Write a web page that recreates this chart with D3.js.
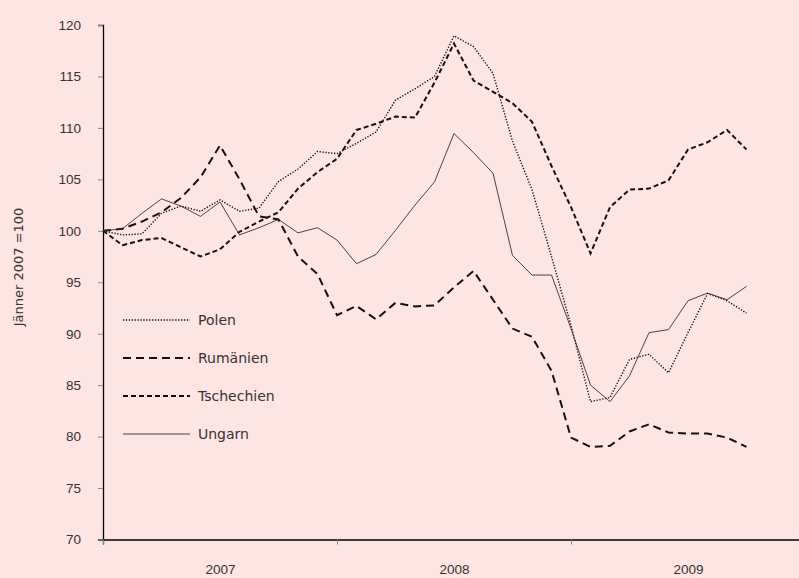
<!DOCTYPE html>
<html>
<head>
<meta charset="utf-8">
<script src="https://cdn.jsdelivr.net/npm/d3@7"></script>
<style>
  body { margin: 0; background: #ffe4e4; }
  svg { display: block; font-family: "DejaVu Sans", sans-serif; }
  .axis text { fill: #333; font-size: 13.5px; }
</style>
</head>
<body>
<svg id="chart" width="799" height="578"></svg>
<script>
// monthly index, Jänner 2007 = 100 (Jan 2007 .. Oct 2009)
var years = ["2007", "2008", "2009"];
var yTicks = [70, 75, 80, 85, 90, 95, 100, 105, 110, 115, 120];

var polen = [100, 99.6, 99.7, 101.7, 102.4, 101.9, 103.0, 101.9, 102.2, 104.8, 106.0, 107.7,
             107.5, 108.5, 109.6, 112.7, 113.8, 115.0, 118.95, 117.9, 115.3, 108.7, 104.0, 97.5,
             90.8, 83.4, 83.8, 87.5, 88.0, 86.2, 90.1, 93.9, 93.2, 92.0];
var rumaenien = [100, 100.2, 100.9, 101.8, 103.2, 105.2, 108.3, 105.0, 101.4, 101.1, 97.5, 95.8,
                 91.8, 92.7, 91.4, 93.0, 92.65, 92.75, 94.5, 96.1, 93.3, 90.5, 89.7, 86.4,
                 79.9, 79.0, 79.1, 80.5, 81.2, 80.4, 80.3, 80.3, 79.9, 79.0];
var tschechien = [100, 98.6, 99.1, 99.3, 98.4, 97.5, 98.2, 99.9, 100.9, 101.8, 104.1, 105.7,
                  107.0, 109.8, 110.4, 111.1, 111.0, 114.4, 118.2, 114.6, 113.5, 112.4, 110.6, 106.3,
                  102.3, 97.8, 102.3, 104.0, 104.1, 104.9, 107.9, 108.6, 109.8, 107.9];
var ungarn = [100, 100.2, 101.7, 103.1, 102.4, 101.4, 102.8, 99.6, 100.3, 101.1, 99.8, 100.3,
              99.1, 96.8, 97.7, 100.05, 102.5, 104.75, 109.45, 107.6, 105.6, 97.6, 95.7, 95.7,
              90.5, 85.0, 83.4, 85.9, 90.1, 90.4, 93.2, 93.95, 93.3, 94.6];

var series = [
  {name: "Polen", values: polen, width: 1.4, dash: "1.3,1.6", color: "#111"},
  {name: "Rumänien", values: rumaenien, width: 2, dash: "8,5", color: "#111"},
  {name: "Tschechien", values: tschechien, width: 2, dash: "5,3", color: "#111"},
  {name: "Ungarn", values: ungarn, width: 0.9, dash: null, color: "#333"}
];

var svg = d3.select("#chart");

// 36 month slots, last partly off the right edge
var x = d3.scaleLinear().domain([0, 36]).range([103, 805]);
var y = d3.scaleLinear().domain([70, 120]).range([539.5, 25]);

// y axis
var yAxis = svg.append("g")
    .attr("class", "axis")
    .attr("transform", "translate(103,0)")
    .call(d3.axisLeft(y).tickValues(yTicks).tickSize(5).tickPadding(17));
yAxis.select(".domain").attr("stroke", "#000").attr("stroke-width", 1.3);
yAxis.selectAll(".tick line").attr("stroke", "#888");

// x axis: year boundaries
var xAxis = svg.append("g")
    .attr("class", "axis")
    .attr("transform", "translate(0,539.5)")
    .call(d3.axisBottom(x).tickValues([0, 12, 24, 36]).tickSize(5).tickFormat(""));
xAxis.select(".domain").attr("stroke", "#000").attr("stroke-width", 1.3);
xAxis.selectAll(".tick line").attr("stroke", "#888");

// year labels centred in each year
var yearAxis = svg.append("g")
    .attr("class", "axis")
    .attr("transform", "translate(0,539.5)")
    .call(d3.axisBottom(x).tickValues([6, 18, 30]).tickSize(0).tickPadding(25)
      .tickFormat(function(d, i) { return years[i]; }));
yearAxis.select(".domain").remove();

svg.append("text")
    .attr("transform", "translate(23,267) rotate(-90)")
    .attr("text-anchor", "middle")
    .attr("fill", "#333")
    .style("font-size", "13px")
    .text("Jänner 2007 =100");

var line = d3.line()
    .x(function(d, i) { return x(i); })
    .y(function(d) { return y(d); });

svg.selectAll("path.series")
    .data(series)
    .enter()
    .append("path")
    .attr("class", "series")
    .attr("fill", "none")
    .attr("stroke", function(d) { return d.color; })
    .attr("stroke-width", function(d) { return d.width; })
    .attr("stroke-dasharray", function(d) { return d.dash; })
    .attr("d", function(d) { return line(d.values); });

// legend
var legend = svg.selectAll("g.legend")
    .data(series)
    .enter()
    .append("g")
    .attr("class", "legend")
    .attr("transform", function(d, i) { return "translate(123," + (320 + i * 38) + ")"; });

legend.append("line")
    .attr("x1", 0).attr("x2", 67)
    .attr("stroke", function(d) { return d.color; })
    .attr("stroke-width", function(d) { return d.width; })
    .attr("stroke-dasharray", function(d) { return d.dash; });

legend.append("text")
    .attr("x", 75)
    .attr("dy", "0.35em")
    .attr("fill", "#333")
    .style("font-size", "14px")
    .text(function(d) { return d.name; });
</script>
</body>
</html>
